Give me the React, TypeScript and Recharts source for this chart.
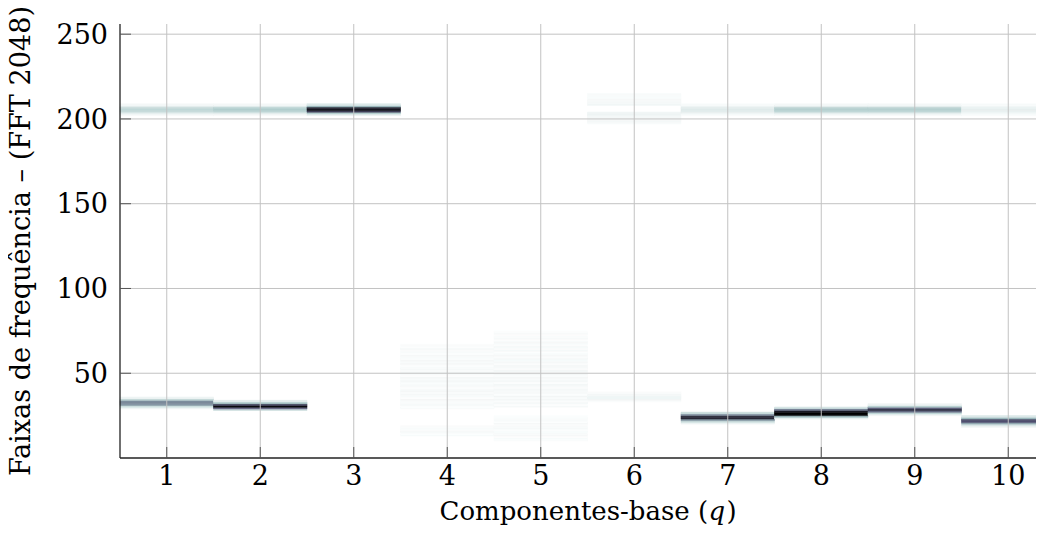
import { ComposedChart, XAxis, YAxis, ReferenceArea, ReferenceLine, Scatter, Label } from "recharts"

// base components on the x axis and frequency ticks on the y axis
const components = [1, 2, 3, 4, 5, 6, 7, 8, 9, 10]
const freqTicks = [50, 100, 150, 200, 250]
const freqMax = 256

// activation bands per component: [first bin, level, level, ...] (level 0..1)
const q1Bands = [
  [202, 0.03, 0.08, 0.16, 0.18, 0.17, 0.08, 0.03],
  [29, 0.05, 0.15, 0.4, 0.46, 0.44, 0.18, 0.05],
]
const q2Bands = [
  [202, 0.03, 0.09, 0.19, 0.22, 0.21, 0.09, 0.03],
  [28, 0.15, 0.62, 0.95, 0.7, 0.25, 0.08],
]
const q3Bands = [
  [202, 0.07, 0.24, 0.72, 0.9, 0.84, 0.3, 0.1],
]
const q4Bands = [
  [29,
    0.02, 0.01, 0.025, 0.015, 0.02, 0.03, 0.01, 0.02, 0.025, 0.015,
    0.03, 0.02, 0.01, 0.025, 0.02, 0.015, 0.03, 0.02, 0.025, 0.01,
    0.02, 0.03, 0.015, 0.025, 0.02, 0.01, 0.025, 0.02, 0.03, 0.015,
    0.02, 0.025, 0.01, 0.02, 0.015, 0.025, 0.01, 0.015],
  [13, 0.02, 0.01, 0.025, 0.015, 0.02, 0.015],
]
const q5Bands = [
  [30,
    0.025, 0.01, 0.03, 0.015, 0.025, 0.02, 0.035, 0.01, 0.025, 0.02,
    0.03, 0.015, 0.025, 0.035, 0.01, 0.03, 0.02, 0.025, 0.015, 0.03,
    0.02, 0.035, 0.015, 0.025, 0.03, 0.01, 0.025, 0.02, 0.03, 0.015,
    0.025, 0.02, 0.01, 0.025, 0.015, 0.03, 0.01, 0.02, 0.025, 0.01,
    0.02, 0.015, 0.01, 0.02, 0.01],
  [10, 0.015, 0.02, 0.01, 0.025, 0.015, 0.02, 0.01, 0.025, 0.02, 0.015, 0.025, 0.01, 0.02, 0.015, 0.01],
]
const q6Bands = [
  [197, 0.02, 0.025, 0.025, 0.03, 0.03, 0.05, 0.045, 0, 0, 0, 0, 0.04, 0.03, 0.025, 0.025, 0.02, 0.02, 0.02],
  [33, 0.015, 0.035, 0.045, 0.04, 0.03, 0.015],
]
const q7Bands = [
  [202, 0.02, 0.05, 0.08, 0.09, 0.08, 0.05, 0.02],
  [20, 0.05, 0.14, 0.4, 0.82, 0.8, 0.45, 0.16],
]
const q8Bands = [
  [202, 0.03, 0.08, 0.18, 0.21, 0.2, 0.08, 0.03],
  [23, 0.06, 0.28, 0.96, 1.0, 0.88, 0.55, 0.14],
]
const q9Bands = [
  [202, 0.03, 0.08, 0.18, 0.21, 0.2, 0.08, 0.03],
  [25, 0.05, 0.18, 0.55, 0.78, 0.6, 0.2, 0.05],
]
const q10Bands = [
  [202, 0.02, 0.04, 0.06, 0.07, 0.06, 0.04, 0.02],
  [18, 0.04, 0.12, 0.35, 0.64, 0.66, 0.3, 0.1],
]
const bandsByComponent = [q1Bands, q2Bands, q3Bands, q4Bands, q5Bands, q6Bands, q7Bands, q8Bands, q9Bands, q10Bands]

// reversed "bone" colormap: 0 -> white, 1 -> black
function boneR(level: number) {
  const t = 1 - level
  const r = t < 0.746032 ? (0.652778 * t) / 0.746032 : 0.652778 + ((t - 0.746032) * 0.347222) / 0.253968
  const g =
    t < 0.365079
      ? (0.319444 * t) / 0.365079
      : t < 0.746032
        ? 0.319444 + ((t - 0.365079) * 0.458334) / 0.380953
        : 0.777778 + ((t - 0.746032) * 0.222222) / 0.253968
  const b = t < 0.365079 ? (0.444444 * t) / 0.365079 : 0.444444 + ((t - 0.365079) * 0.555556) / 0.634921
  return `rgb(${Math.round(r * 255)},${Math.round(g * 255)},${Math.round(b * 255)})`
}

const cells = components.flatMap((q, i) =>
  bandsByComponent[i].flatMap(([start, ...levels]) =>
    levels.map((level, k) => ({ q, bin: start + k, level })),
  ),
).filter((c) => c.level > 0)

const font = "'DejaVu Serif', 'Liberation Serif', serif"

// x title: upright words, italic q, closing paren
function XTitle({ viewBox }: any) {
  const x0 = viewBox.x + viewBox.width / 2 - 148
  const y = viewBox.y + 62
  const common = { fontFamily: font, fontSize: 26, fill: "#000" }
  return (
    <g>
      <text x={x0} y={y} {...common}>
        Componentes-base (
      </text>
      <text x={x0 + 269} y={y} fontStyle="italic" {...common}>
        q
      </text>
      <text x={x0 + 287} y={y} {...common}>
        )
      </text>
    </g>
  )
}

function YTitle({ viewBox }: any) {
  const cx = 30
  const cy = viewBox.y + viewBox.height / 2
  return (
    <text
      x={cx}
      y={cy}
      transform={`rotate(-90, ${cx}, ${cy})`}
      textAnchor="middle"
      textLength={470}
      lengthAdjust="spacingAndGlyphs"
      fontFamily={font}
      fontSize={27}
      fill="#000"
    >
      Faixas de frequência – (FFT 2048)
    </text>
  )
}

export default function App() {
  return (
    <div style={{ width: 1044, height: 546, margin: -8, overflow: "hidden", background: "#fff" }}>
      <ComposedChart width={1070} height={546} margin={{ top: 24, right: 15, left: 0, bottom: 0 }} data={cells}>
        <XAxis
          type="number"
          dataKey="q"
          domain={[0.5, 10.5]}
          ticks={components}
          allowDataOverflow
          height={88}
          tickSize={-11}
          tickMargin={19}
          tickLine={{ stroke: "#555" }}
          axisLine={{ stroke: "#222", strokeWidth: 1.3 }}
          tick={{ fontSize: 27, fontFamily: font, fill: "#000" }}
        >
          <Label content={XTitle} />
        </XAxis>
        <XAxis
          xAxisId="top"
          orientation="top"
          type="number"
          domain={[0.5, 10.5]}
          ticks={components}
          allowDataOverflow
          height={0}
          tickSize={-11}
          tickFormatter={() => ""}
          tickLine={{ stroke: "#555" }}
          axisLine={{ stroke: "#222", strokeWidth: 1.3 }}
        />
        <YAxis
          type="number"
          domain={[0, freqMax]}
          ticks={freqTicks}
          allowDataOverflow
          width={120}
          tickSize={-11}
          tickMargin={23}
          tickLine={{ stroke: "#555" }}
          axisLine={{ stroke: "#222", strokeWidth: 1.3 }}
          tick={{ fontSize: 27, fontFamily: font, fill: "#000" }}
        >
          <Label content={YTitle} />
        </YAxis>
        {cells.map((c) => (
          <ReferenceArea
            key={`${c.q}-${c.bin}`}
            x1={c.q - 0.5}
            x2={c.q + 0.5}
            y1={c.bin}
            y2={c.bin + 1}
            fill={boneR(c.level)}
            fillOpacity={1}
            stroke={boneR(c.level)}
            strokeWidth={0.6}
          />
        ))}
        {components.map((q) => (
          <ReferenceLine key={`gx${q}`} x={q} stroke="#c2c2c2" strokeWidth={1} />
        ))}
        {freqTicks.map((f) => (
          <ReferenceLine key={`gy${f}`} y={f} stroke="#c2c2c2" strokeWidth={1} />
        ))}
        <Scatter dataKey="bin" isAnimationActive={false} shape={() => <g />} />
      </ComposedChart>
    </div>
  )
}
